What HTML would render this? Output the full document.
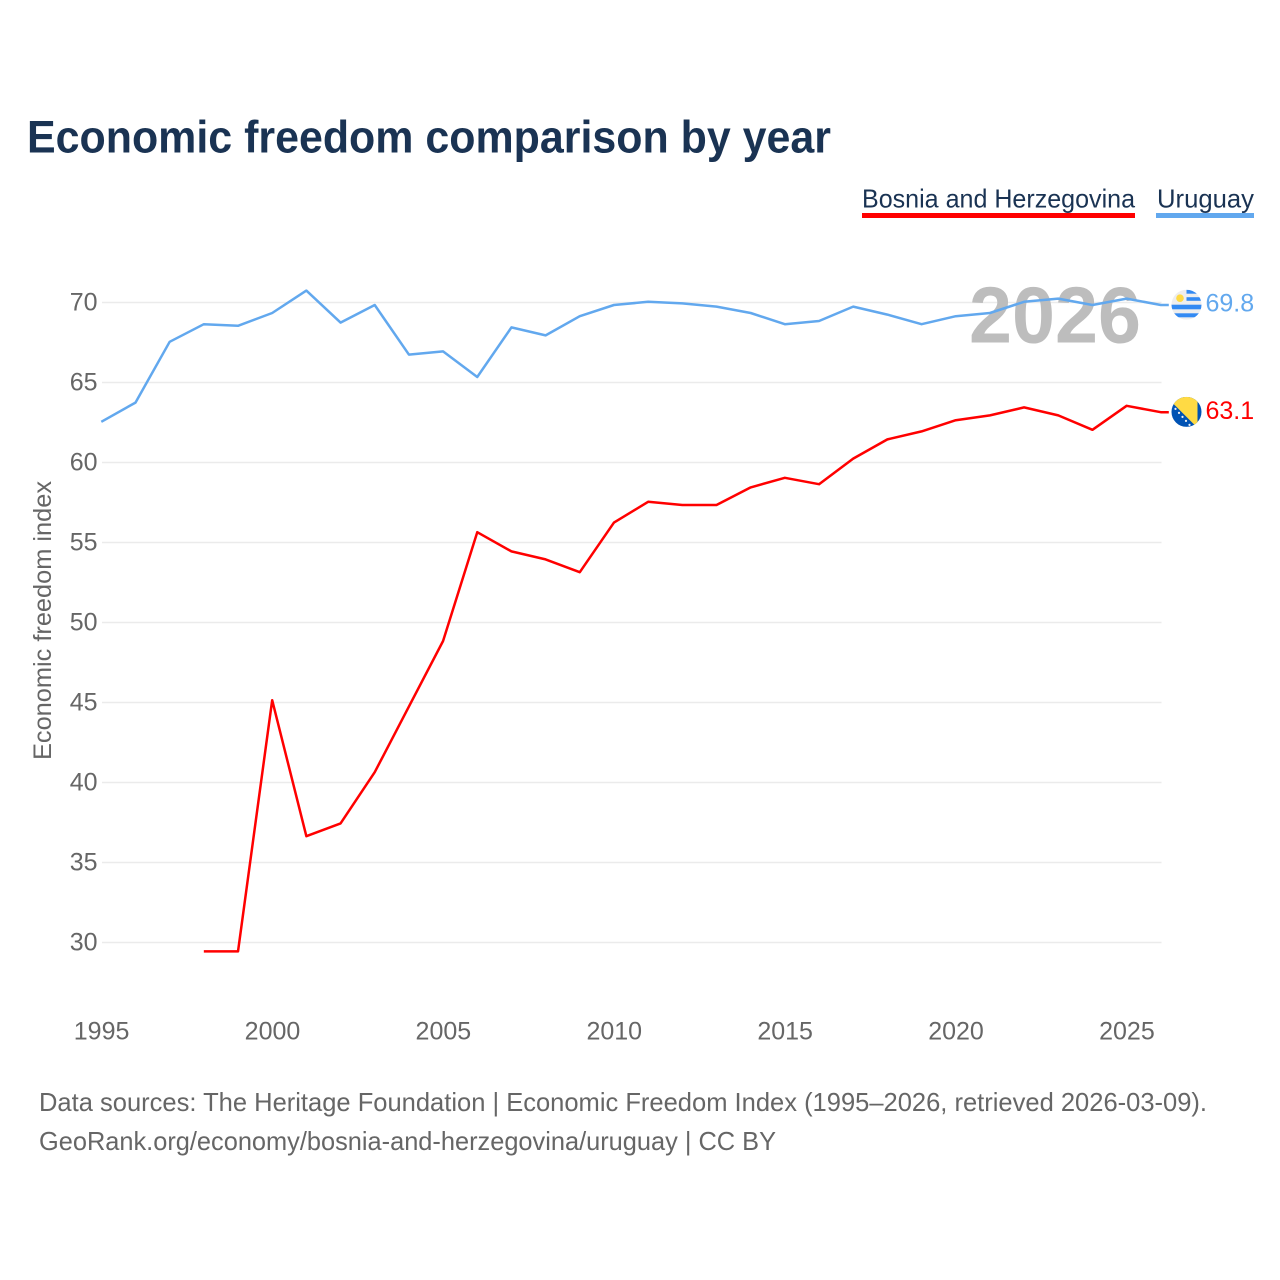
<!DOCTYPE html>
<html lang="en">
<head>
<meta charset="utf-8">
<title>Economic freedom comparison by year</title>
<style>
  html, body { margin: 0; padding: 0; background: #fff; }
  svg { display: block; font-family: "Liberation Sans", sans-serif; }
</style>
</head>
<body>
<svg id="chart" xmlns="http://www.w3.org/2000/svg" width="1280" height="1280" viewBox="0 0 1280 1280">
  <defs>
    <clipPath id="clip-flag"><circle cx="0" cy="0" r="15"></circle></clipPath>
  </defs>
  <rect x="0" y="0" width="1280" height="1280" fill="#ffffff"></rect>
  <text x="27" y="152.5" font-size="45" font-weight="700" fill="#1a3353" textLength="804" lengthAdjust="spacingAndGlyphs">Economic freedom comparison by year</text>

  <g>
    <g>
      <text x="862" y="207.5" font-size="26" fill="#1a3353" textLength="273" lengthAdjust="spacingAndGlyphs">Bosnia and Herzegovina</text>
      <rect x="862" y="213" width="273" height="5" fill="#ff0000"></rect>
    </g>
    <g>
      <text x="1157" y="207.5" font-size="26" fill="#1a3353" textLength="97" lengthAdjust="spacingAndGlyphs">Uruguay</text>
      <rect x="1156" y="213" width="98" height="5" fill="#62a8ee"></rect>
    </g>
  </g>

  <g id="grid"></g>
  <text x="1141" y="342.5" text-anchor="end" font-size="80" font-weight="700" fill="#bdbdbd" textLength="172" lengthAdjust="spacingAndGlyphs">2026</text>
  <g id="y-ticks"></g>
  <g id="x-ticks"></g>
  <text transform="translate(51 620.5) rotate(-90)" text-anchor="middle" font-size="25" fill="#666666" textLength="279" lengthAdjust="spacingAndGlyphs">Economic freedom index</text>
  <g id="series" transform="translate(-0.7 -0.7)"></g>
  <g id="end-labels"></g>

  <text x="39" y="1111" font-size="26" fill="#666666" textLength="1168" lengthAdjust="spacingAndGlyphs">Data sources: The Heritage Foundation | Economic Freedom Index (1995–2026, retrieved 2026-03-09).</text>
  <text x="39" y="1150" font-size="26" fill="#666666" textLength="737" lengthAdjust="spacingAndGlyphs">GeoRank.org/economy/bosnia-and-herzegovina/uruguay | CC BY</text>
</svg>
<script>
const years = [1995,1996,1997,1998,1999,2000,2001,2002,2003,2004,2005,2006,2007,2008,2009,2010,2011,2012,2013,2014,2015,2016,2017,2018,2019,2020,2021,2022,2023,2024,2025,2026];
const uruguayValues = [62.5,63.7,67.5,68.6,68.5,69.3,70.7,68.7,69.8,66.7,66.9,65.3,68.4,67.9,69.1,69.8,70.0,69.9,69.7,69.3,68.6,68.8,69.7,69.2,68.6,69.1,69.3,70.0,70.2,69.8,70.2,69.8];
const bosniaValues = [null,null,null,29.4,29.4,45.1,36.6,37.4,40.6,44.7,48.8,55.6,54.4,53.9,53.1,56.2,57.5,57.3,57.3,58.4,59.0,58.6,60.2,61.4,61.9,62.6,62.9,63.4,62.9,62.0,63.5,63.1];
const yTickValues = [30,35,40,45,50,55,60,65,70];
const xTickValues = [1995,2000,2005,2010,2015,2020,2025];

const SVG_NS = 'http://www.w3.org/2000/svg';
const xScale = function (year) { return 102 + (year - 1995) * (1059.5 / 31); };
const yScale = function (value) { return 942.5 - (value - 30) * 16; };

function make(tag, attrs, parent) {
  const el = document.createElementNS(SVG_NS, tag);
  Object.keys(attrs).forEach(function (k) { el.setAttribute(k, attrs[k]); });
  parent.appendChild(el);
  return el;
}

const grid = document.getElementById('grid');
const yTicks = document.getElementById('y-ticks');
yTickValues.forEach(function (v) {
  const line = make('line', { x1: 102, x2: 1161.5, y1: yScale(v), y2: yScale(v), stroke: '#ebebeb', 'stroke-width': 1.5 }, grid);
  
  
  const label = make('text', { x: 97.5, y: yScale(v) + 8, 'text-anchor': 'end', 'font-size': 25, fill: '#666666' }, yTicks);
  
  
  label.textContent = String(v);
});

const xTicks = document.getElementById('x-ticks');
xTickValues.forEach(function (yr) {
  const label = make('text', { x: xScale(yr) - 0.4, y: 1039.5, 'text-anchor': 'middle', 'font-size': 25, fill: '#666666' }, xTicks);
  
  
  label.textContent = String(yr);
});

function linePoints(values) {
  const pts = [];
  values.forEach(function (v, i) {
    if (v !== null) pts.push(xScale(years[i]).toFixed(2) + ',' + yScale(v).toFixed(2));
  });
  return pts;
}

const series = document.getElementById('series');
const lastIndex = years.length - 1;
const endX = xScale(years[lastIndex]) + 8;

const uruguayLine = make('polyline', { points: linePoints(uruguayValues).join(' ') + ' ' + endX + ',' + yScale(uruguayValues[lastIndex]).toFixed(2), fill: 'none', stroke: '#62a8ee', 'stroke-width': 2.5, 'stroke-linejoin': 'round' }, series);



const bosniaLine = make('polyline', { points: linePoints(bosniaValues).join(' ') + ' ' + endX + ',' + yScale(bosniaValues[lastIndex]).toFixed(2), fill: 'none', stroke: '#ff0000', 'stroke-width': 2.5, 'stroke-linejoin': 'round' }, series);



const endLabels = document.getElementById('end-labels');

/* Uruguay flag and value */
const uyY = yScale(uruguayValues[lastIndex]);
const uyFlag = make('g', { transform: 'translate(1186.5 ' + (uyY - 1) + ')', 'clip-path': 'url(#clip-flag)' }, endLabels);


make('rect', { x: -15, y: -15, width: 30, height: 30, fill: '#eeeeee' }, uyFlag);
make('rect', { x: 0, y: -15, width: 15, height: 4, fill: '#338af3' }, uyFlag);
make('rect', { x: 0, y: -7.5, width: 15, height: 3.6, fill: '#338af3' }, uyFlag);
make('rect', { x: -15, y: 0, width: 30, height: 4.6, fill: '#338af3' }, uyFlag);
make('rect', { x: -15, y: 8.6, width: 30, height: 4, fill: '#338af3' }, uyFlag);
make('circle', { cx: -6.5, cy: -6.5, r: 3.8, fill: '#ffda44' }, uyFlag);

const uyValue = make('text', { x: 1205.5, y: uyY + 6, 'font-size': 25, fill: '#62a8ee' }, endLabels);


uyValue.textContent = uruguayValues[lastIndex].toFixed(1);

/* Bosnia flag and value */
const baY = yScale(bosniaValues[lastIndex]);
const baFlag = make('g', { transform: 'translate(1186.5 ' + (baY - 1) + ')', 'clip-path': 'url(#clip-flag)' }, endLabels);


make('rect', { x: -15, y: -15, width: 30, height: 30, fill: '#0052b4' }, baFlag);
make('polygon', { points: '-14,-9 -8,-15 15,-15 11,-15 11,14 9,14', fill: '#ffda44' }, baFlag);
[[-11,-3],[-7.5,1],[-4,5],[-0.5,9],[3,13]].forEach(function (p) {
  make('circle', { cx: p[0], cy: p[1], r: 1.1, fill: '#f0f0f0' }, baFlag);
});

const baValue = make('text', { x: 1205.5, y: baY + 6, 'font-size': 25, fill: '#ff0000' }, endLabels);


baValue.textContent = bosniaValues[lastIndex].toFixed(1);
</script>
</body>
</html>
